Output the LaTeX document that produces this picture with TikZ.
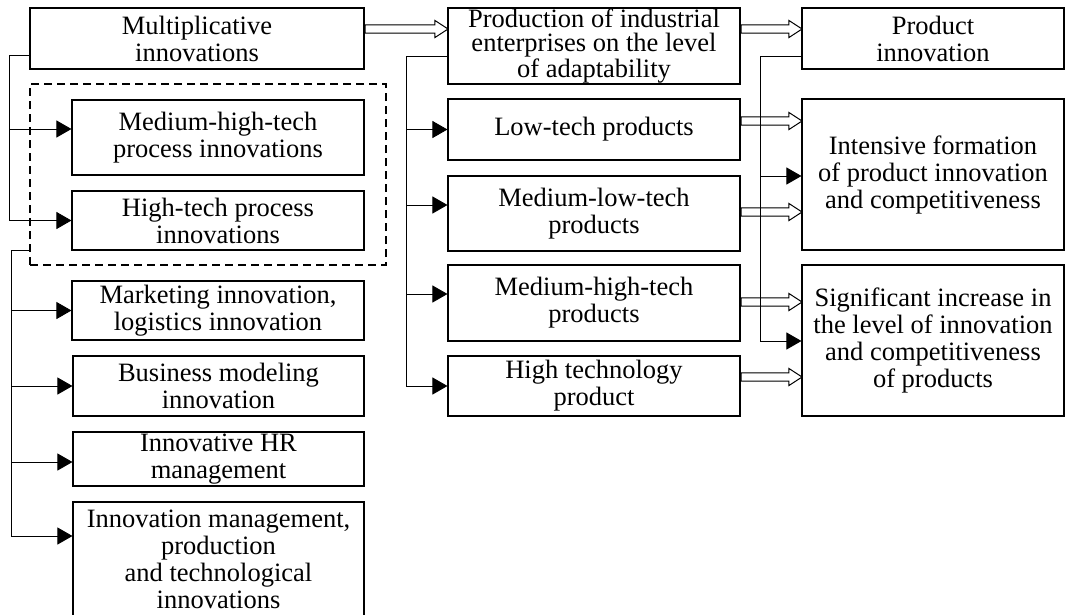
\documentclass[tikz,border=0pt]{standalone}
\usepackage{fontspec}
\setmainfont{Liberation Serif}
\usetikzlibrary{arrows.meta,shapes.arrows}

\begin{document}
\begin{tikzpicture}[x=1pt,y=-1pt,
    font=\fontsize{26.5}{27}\selectfont,
    box/.style={draw,line width=1.1pt,inner sep=0pt,align=center},
    groupbox/.style={draw,line width=1.1pt,dash pattern=on 8pt off 5pt},
    bus/.style={line width=0.9pt},
    link/.style={line width=0.9pt,-{Triangle[length=15pt,width=17pt]}},
    flow/.style={single arrow,draw,fill=white,line width=1pt,inner xsep=0pt,inner ysep=3.6pt,
        single arrow head extend=4.5pt,single arrow tip angle=66,anchor=tail,pos=0}]

    \useasboundingbox (0,0) rectangle (1065,614);

    % left column
    \node[box,minimum width=334,minimum height=61] (mult) at (197,38.5) {Multiplicative\\innovations};
    \node[groupbox,minimum width=356,minimum height=181] (grp) at (208,174.5) {};
    \node[box,minimum width=292,minimum height=75] (mhp) at (218,137.5) {Medium-high-tech\\process innovations};
    \node[box,minimum width=292,minimum height=59] (hp) at (218,220.5) {High-tech process\\innovations};
    \node[box,minimum width=292,minimum height=59] (mkt) at (218,310.5) {Marketing innovation,\\logistics innovation};
    \node[box,minimum width=291,minimum height=60] (biz) at (218.5,386) {Business modeling\\innovation};
    \node[box,minimum width=291,minimum height=54] (hr) at (218.5,459) {Innovative HR\\management};
    \node[box,minimum width=291,minimum height=114] (im) at (218.5,559) {Innovation management,\\production\\and technological\\innovations};

    % middle column
    \node[box,minimum width=292,minimum height=76,font=\fontsize{26.5}{24}\selectfont] (prod) at (594,46) {Production of industrial\\enterprises on the level\\of adaptability};
    \node[box,minimum width=292,minimum height=61] (low) at (594,129.5) {Low-tech products};
    \node[box,minimum width=292,minimum height=75] (mlow) at (594,213.5) {Medium-low-tech\\products};
    \node[box,minimum width=292,minimum height=76] (mhigh) at (594,303) {Medium-high-tech\\products};
    \node[box,minimum width=292,minimum height=60] (high) at (594,386) {High technology\\product};

    % right column
    \node[box,minimum width=262,minimum height=61] (pi) at (933,38.5) {Product\\innovation};
    \node[box,minimum width=262,minimum height=151] (inten) at (933,174.5) {Intensive formation\\of product innovation\\and competitiveness};
    \node[box,minimum width=262,minimum height=151] (sig) at (933,340.5) {Significant increase in\\the level of innovation\\and competitiveness\\of products};

    % wide arrows
    \path (mult.east |- 0,29) -- node[flow,minimum height=83] (f1) {} (prod.west |- 0,29);
    \path (prod.east |- 0,29) -- node[flow,minimum height=61] (f2) {} (pi.west |- 0,29);
    \path (low.east |- 0,121) -- node[flow,minimum height=61] (f3) {} (inten.west |- 0,121);
    \path (mlow.east |- 0,212) -- node[flow,minimum height=61] (f4) {} (inten.west |- 0,212);
    \path (mhigh.east |- 0,302) -- node[flow,minimum height=61] (f5) {} (sig.west |- 0,302);
    \path (high.east |- 0,377) -- node[flow,minimum height=61] (f6) {} (sig.west |- 0,377);

    % buses
    \coordinate (lb) at (9,55);
    \coordinate (lb2) at (11,250);
    \coordinate (mb) at (406,56);
    \coordinate (rb) at (760,56);

    \draw[bus] (mult.west |- lb) -- (lb) -- (lb |- hp);
    \draw[link] (lb |- 0,129) -- (mhp.west |- 0,129);
    \draw[link] (lb |- hp) -- (hp);

    \draw[bus] (grp.west |- lb2) -- (lb2) -- (lb2 |- 0,536);
    \draw[link] (lb2 |- mkt) -- (mkt);
    \draw[link] (lb2 |- biz) -- (biz);
    \draw[link] (lb2 |- 0,462) -- (hr.west |- 0,462);
    \draw[link] (lb2 |- 0,536) -- (im.west |- 0,536);

    \draw[bus] (prod.west |- mb) -- (mb) -- (mb |- high);
    \draw[link] (mb |- low) -- (low);
    \draw[link] (mb |- 0,205) -- (mlow.west |- 0,205);
    \draw[link] (mb |- 0,294) -- (mhigh.west |- 0,294);
    \draw[link] (mb |- high) -- (high);

    \draw[bus] (pi.west |- rb) -- (rb) -- (rb |- 0,341);
    \draw[link] (rb |- 0,176) -- (inten.west |- 0,176);
    \draw[link] (rb |- 0,341) -- (sig.west |- 0,341);

\end{tikzpicture}
\end{document}
